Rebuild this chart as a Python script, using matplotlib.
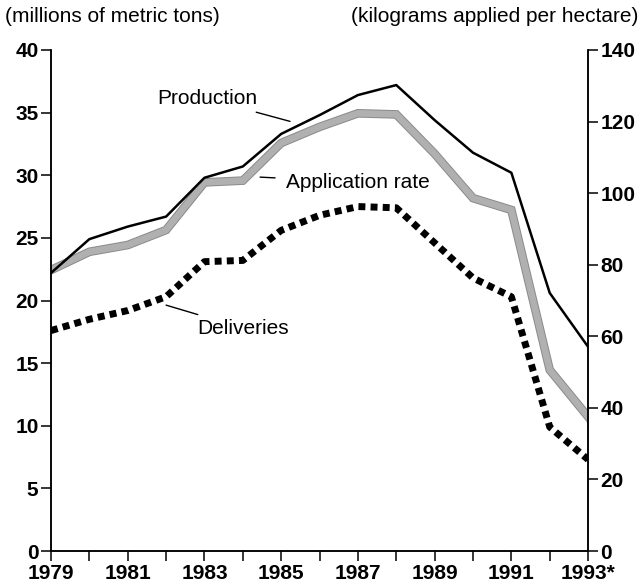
import matplotlib
matplotlib.use("Agg")
import matplotlib.pyplot as plt
import matplotlib.patheffects as pe

plt.rcParams['font.family'] = ['Liberation Sans', 'DejaVu Sans']

years = list(range(1979, 1994))
year_labels = ['1979', '', '1981', '', '1983', '', '1985', '', '1987', '', '1989', '', '1991', '', '1993*']

# millions of metric tons (left axis)
production = [22.2, 24.9, 25.9, 26.7, 29.8, 30.7, 33.3, 34.8, 36.4, 37.2, 34.4, 31.8, 30.2, 20.6, 16.3]
deliveries = [17.6, 18.5, 19.2, 20.3, 23.1, 23.2, 25.6, 26.8, 27.5, 27.4, 24.6, 21.8, 20.3, 9.9, 7.3]
# kilograms applied per hectare (right axis)
application_rate = [78.5, 83.6, 85.5, 89.7, 103.0, 103.5, 114.0, 118.5, 122.3, 122.0, 111.0, 98.6, 95.3, 50.6, 37.5]

fig = plt.figure(figsize=(6.44, 5.86), dpi=100)
ax = fig.add_axes([0.0792, 0.0597, 0.834, 0.855])
ax2 = ax.twinx()

ax2.plot(years, application_rate, color='#b0b0b0', lw=4.8, solid_joinstyle='miter', zorder=2,
         path_effects=[pe.Stroke(linewidth=6.2, foreground='#8a8a8a'), pe.Normal()])
ax.plot(years, production, color='black', lw=1.8, zorder=3)
ax.plot(years, deliveries, color='black', lw=5, linestyle=(0, (1, 0.75)),
        dash_capstyle='butt', zorder=3)
ax.set_zorder(ax2.get_zorder() + 1)
ax.patch.set_visible(False)

ax.set_xlim(1979, 1993)
ax.set_ylim(0, 40)
ax2.set_ylim(0, 140)

ax.set_xticks(years)
ax.set_xticklabels(year_labels)
ax.set_yticks(range(0, 41, 5))
ax2.set_yticks(range(0, 141, 20))

for a in (ax, ax2):
    a.spines['top'].set_visible(False)
    for s in ('left', 'right', 'bottom'):
        a.spines[s].set_linewidth(1.1)
    a.tick_params(direction='out', length=7, width=1.1, labelsize=15, pad=2)
for lab in ax.get_xticklabels() + ax.get_yticklabels() + ax2.get_yticklabels():
    lab.set_fontweight('bold')

fs = 15
ax.annotate('Production', xy=(1985.23, 34.3), xytext=(1984.37, 36.1),
            ha='right', va='center', fontsize=fs,
            arrowprops=dict(arrowstyle='-', lw=1, color='black', shrinkA=3, shrinkB=0))
ax.annotate('Application rate', xy=(1984.45, 29.85), xytext=(1985.13, 29.45),
            ha='left', va='center', fontsize=fs,
            arrowprops=dict(arrowstyle='-', lw=1, color='black', shrinkA=6, shrinkB=0))
ax.annotate('Deliveries', xy=(1982.0, 19.63), xytext=(1982.81, 17.8),
            ha='left', va='center', fontsize=fs,
            arrowprops=dict(arrowstyle='-', lw=1, color='black', shrinkA=3, shrinkB=0))

fig.text(0.008, 1 - 16 / 586, '(millions of metric tons)', ha='left', va='center', fontsize=15)
fig.text(0.992, 1 - 16 / 586, '(kilograms applied per hectare)', ha='right', va='center', fontsize=15)

fig.savefig('out.png', dpi=100)
